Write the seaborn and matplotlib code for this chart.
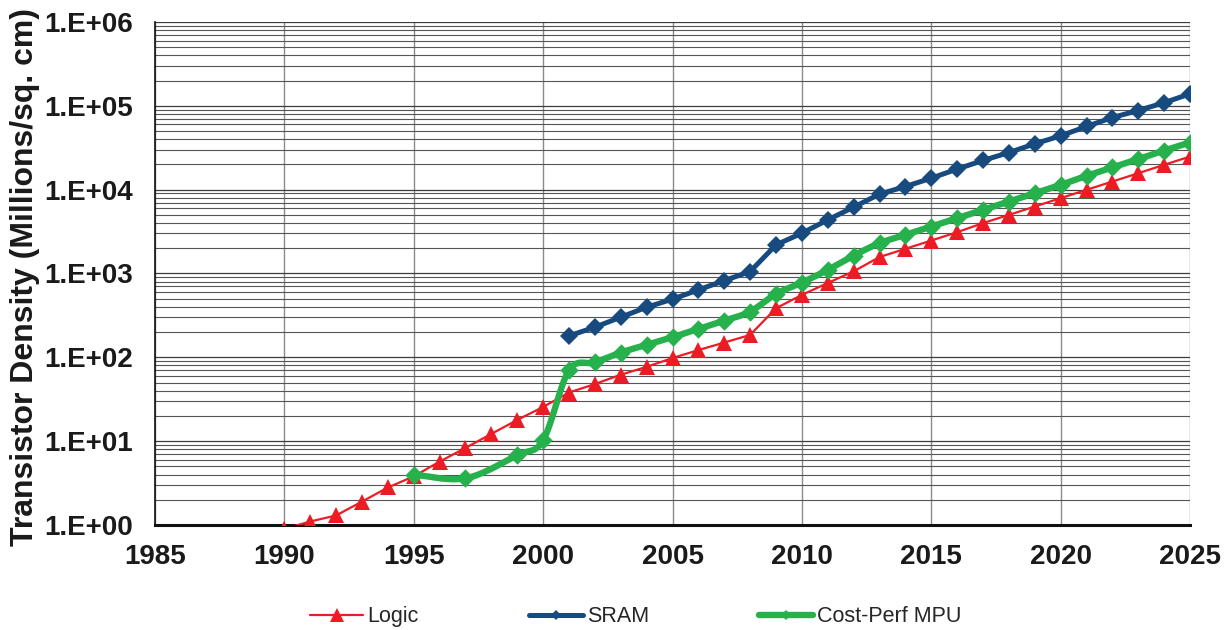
import numpy as np
import matplotlib
matplotlib.use("Agg")
import matplotlib.pyplot as plt
import seaborn as sns
from matplotlib.lines import Line2D
from matplotlib.ticker import FixedLocator, FuncFormatter, NullFormatter

# Transistor density roadmap (millions of transistors per sq. cm)
logic_years = list(range(1990, 2026))
logic_density = [0.9, 1.1, 1.3, 1.9, 2.8, 3.8, 5.7, 8.3, 12.2, 17.9,
                 25.6, 38, 48, 62, 77, 98, 122, 150, 185, 385,
                 555, 770, 1060, 1570, 1970, 2470, 3110, 3990, 5000, 6290,
                 7920, 9950, 12500, 15700, 19800, 24800]

sram_years = list(range(2001, 2026))
sram_density = [180, 229, 301, 396, 494, 637, 823, 1054, 2195, 3025,
                4360, 6190, 8840, 10900, 13700, 17600, 22300, 27700, 35200, 43900,
                56700, 72500, 87900, 109000, 139000]

mpu_years = [1995, 1997, 1999, 2000] + list(range(2001, 2026))
mpu_density = [4.0, 3.6, 6.8, 10.3,
               70, 87, 114, 141, 174, 218, 274, 351, 571, 779,
               1104, 1636, 2300, 2890, 3630, 4570, 5740, 7210, 9080, 11400,
               14600, 18400, 23100, 29300, 36500]

series_names = ["Logic", "SRAM", "Cost-Perf MPU"]
x_ticks = list(range(1985, 2030, 5))

RED = "#ED1C24"
BLUE = "#174B80"
GREEN = "#26B14C"
INK = "#1a1a1a"


def smooth_curve(x, y, n=24, sx=25.9, sy=83.8):
    """Bezier smoothing (Catmull-Rom tangents) in screen-proportional space."""
    pts = np.column_stack([np.asarray(x, float) * sx, np.log10(y) * sy])
    out = []
    m = len(pts)
    for i in range(m - 1):
        p0 = pts[i - 1] if i > 0 else pts[i]
        p1, p2 = pts[i], pts[i + 1]
        p3 = pts[i + 2] if i + 2 < m else pts[i + 1]
        c1 = p1 + (p2 - p0) / 6.0
        c2 = p2 - (p3 - p1) / 6.0
        t = np.linspace(0, 1, n, endpoint=(i == m - 2))[:, None]
        seg = ((1 - t) ** 3) * p1 + 3 * ((1 - t) ** 2) * t * c1 \
            + 3 * (1 - t) * (t ** 2) * c2 + (t ** 3) * p2
        out.append(seg)
    arr = np.vstack(out)
    return arr[:, 0] / sx, 10 ** (arr[:, 1] / sy)


sns.set_theme(style="white")
plt.rcParams["font.family"] = ["Liberation Sans", "DejaVu Sans"]

fig = plt.figure(figsize=(12.3, 6.3), dpi=100)
ax = fig.add_axes([0.126, 0.1667, 0.8415, 0.7984])
ax.set_yscale("log")
ax.set_xlim(1985, 2025)
ax.set_ylim(1, 1e6)

# grid: every decade plus 2..9 within each decade, and every 5 years
ax.yaxis.set_major_locator(FixedLocator([10.0 ** k for k in range(0, 7)]))
minor = [m * 10.0 ** k for k in range(0, 6) for m in range(2, 10)]
ax.yaxis.set_minor_locator(FixedLocator(minor))
ax.yaxis.set_minor_formatter(NullFormatter())
ax.xaxis.set_major_locator(FixedLocator(x_ticks))
ax.grid(True, which="major", axis="y", color="#3c3c3c", lw=0.9)
ax.grid(True, which="minor", axis="y", color="#555555", lw=0.8)
ax.grid(True, which="major", axis="x", color="#8a8a8a", lw=1.0)
ax.set_axisbelow(True)

ax.yaxis.set_major_formatter(FuncFormatter(lambda v, p: "1.E+%02d" % int(round(np.log10(v)))))
ax.tick_params(axis="x", which="major", labelsize=20, length=5, width=1,
               color="#333333", direction="out", pad=9)
ax.tick_params(axis="y", which="major", labelsize=20, length=6, width=1,
               color="#333333", direction="out", pad=10)
ax.tick_params(axis="y", which="minor", length=0)
for lbl in ax.get_xticklabels() + ax.get_yticklabels():
    lbl.set_fontweight("bold")
    lbl.set_color(INK)

for side in ["top", "right"]:
    ax.spines[side].set_visible(False)
ax.spines["left"].set_color("#111111")
ax.spines["left"].set_linewidth(1.2)
ax.spines["bottom"].set_color("#111111")
ax.spines["bottom"].set_linewidth(2.2)

# Logic
sns.lineplot(x=logic_years, y=logic_density, ax=ax, color=RED, lw=1.6,
             marker="^", markersize=11.5, markeredgewidth=0, sort=False,
             estimator=None, zorder=3)
# SRAM
sns.lineplot(x=sram_years, y=sram_density, ax=ax, color=BLUE, lw=3.6,
             marker="D", markersize=9.5, markeredgewidth=0, sort=False,
             estimator=None, zorder=4)
# Cost-Perf MPU: smoothed line with diamond markers
smx, smy = smooth_curve(mpu_years, mpu_density)
sns.lineplot(x=smx, y=smy, ax=ax, color=GREEN, lw=4.6, sort=False,
             estimator=None, zorder=5)
sns.scatterplot(x=mpu_years, y=mpu_density, ax=ax, color=GREEN, marker="D",
                s=88, linewidth=0, zorder=6)

ax.set_xlim(1985, 2025)
ax.set_ylim(1, 1e6)
ax.set_xlabel("")
ax.set_ylabel("")
fig.text(0.0203, 0.56, "Transistor Density (Millions/sq. cm)", rotation=90,
         ha="center", va="center", fontsize=23, fontweight="bold", color=INK)

handles = [
    Line2D([], [], color=RED, lw=1.6, marker="^", markersize=10, markeredgewidth=0),
    Line2D([], [], color=BLUE, lw=3.6, marker="D", markersize=5.5, markeredgewidth=0),
    Line2D([], [], color=GREEN, lw=4.6, marker="D", markersize=5.5, markeredgewidth=0),
]
leg = fig.legend(handles, series_names, loc="center", bbox_to_anchor=(0.5167, 0.021),
                 ncol=3, frameon=False, fontsize=15.5, handlelength=2.5,
                 handletextpad=0.2, columnspacing=5.1)
for t in leg.get_texts():
    t.set_color("#262626")

fig.savefig("out.png", dpi=100)
